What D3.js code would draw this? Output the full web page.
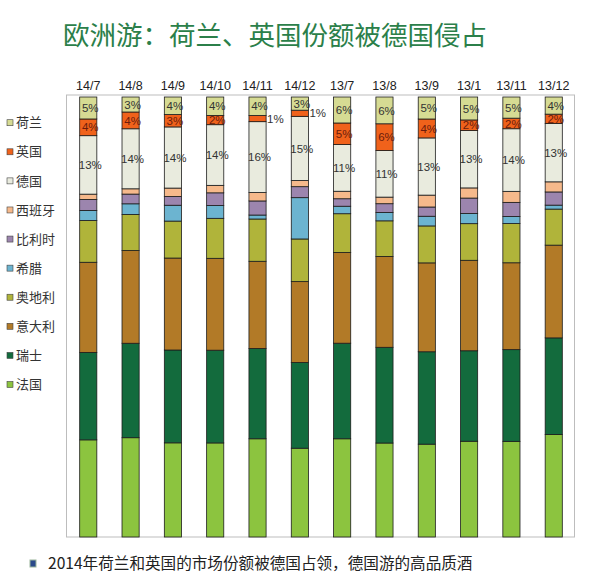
<!DOCTYPE html>
<html>
<head>
<meta charset="utf-8">
<script src="https://cdn.jsdelivr.net/npm/d3@7"></script>
<style>
  body { margin: 0; background: #fff; }
  svg { display: block; }
</style>
</head>
<body>
<svg></svg>
<script>
const svg = d3.select('svg')
    .attr('width', 590)
    .attr('height', 585);

// months along the top
const months = ['14/7', '14/8', '14/9', '14/10', '14/11', '14/12', '13/7', '13/8', '13/9', '13/1', '13/11', '13/12'];

// share per country (%)
const netherlands = [5.0, 3.4, 4.0, 4.2, 4.2, 3.0, 5.9, 6.1, 5.0, 5.2, 4.8, 3.9];
const uk          = [3.8, 3.8, 2.8, 2.1, 1.4, 1.4, 4.9, 6.1, 4.3, 2.4, 2.4, 2.1];
const germany     = [13.3, 13.6, 13.9, 13.8, 16.1, 14.6, 10.6, 10.6, 13.0, 13.0, 14.2, 13.3];
const spain       = [1.2, 1.2, 1.9, 1.7, 1.9, 1.4, 1.7, 1.5, 2.7, 2.3, 2.5, 2.3];
const belgium     = [2.5, 2.2, 2.0, 2.9, 3.2, 2.5, 1.7, 2.0, 2.1, 3.5, 3.2, 3.0];
const greece      = [2.3, 2.4, 3.6, 2.9, 0.9, 9.4, 1.7, 1.9, 2.2, 2.3, 1.6, 0.9];
const austria     = [9.5, 8.2, 8.4, 9.1, 9.6, 9.7, 8.8, 8.1, 8.4, 8.3, 8.9, 8.2];
const italy       = [20.5, 21.0, 20.9, 20.9, 19.8, 18.4, 20.6, 20.7, 20.2, 20.5, 19.7, 21.1];
const swiss       = [19.9, 21.4, 21.1, 21.1, 20.5, 19.5, 21.7, 21.8, 21.0, 20.5, 20.8, 22.0];
const france      = [22.1, 22.5, 21.4, 21.4, 22.3, 20.2, 22.3, 21.4, 21.1, 21.7, 21.7, 23.3];

// legend order (top to bottom) and the matching series
const countries = ['荷兰', '英国', '德国', '西班牙', '比利时', '希腊', '奥地利', '意大利', '瑞士', '法国'];
const series = [netherlands, uk, germany, spain, belgium, greece, austria, italy, swiss, france];
const colors = ['#d6db93', '#f0621b', '#e9ebde', '#f6b98b', '#9c85ae', '#6cb4d0', '#b0b43a', '#b27a27', '#136b3d', '#8cc43f'];
// only these three carry value labels
const labelled = ['荷兰', '英国', '德国'];

// rows for d3.stack
const rows = months.map((m, i) => {
    const r = { month: m };
    countries.forEach((c, k) => r[c] = series[k][i]);
    return r;
});

// stack from the bottom (法国) upward
const keys = countries.slice().reverse();
const stacked = d3.stack().keys(keys).offset(d3.stackOffsetExpand)(rows);

const colorOf = d3.scaleOrdinal().domain(countries).range(colors);

// plot frame
const plotL = 67, plotR = 575, plotT = 97, plotB = 537;

const x = d3.scaleBand()
    .domain(months)
    .range([plotL, plotR])
    .paddingInner(0.595)
    .paddingOuter(0.3);

const y = d3.scaleLinear()
    .domain([0, 1])
    .range([plotB, plotT]);

// title
svg.append('text')
    .attr('x', 63)
    .attr('y', 45)
    .attr('font-family', '"Noto Sans CJK SC", sans-serif')
    .attr('font-size', 26.5)
    .attr('fill', '#2b7f4a')
    .text('欧洲游：荷兰、英国份额被德国侵占');

// frame
svg.append('rect')
    .attr('x', plotL - 0.5)
    .attr('y', plotT - 2)
    .attr('width', plotR - plotL)
    .attr('height', plotB - plotT + 2)
    .attr('fill', 'none')
    .attr('stroke', '#bdbdbd')
    .attr('stroke-width', 1);

// month labels on top
svg.append('g')
    .attr('transform', `translate(0,${plotT - 7})`)
    .call(d3.axisTop(x).tickSize(0).tickPadding(0))
    .call(g => g.select('.domain').remove())
    .call(g => g.selectAll('text')
        .attr('font-family', '"Liberation Sans", Arial, sans-serif')
        .attr('font-size', 12.5)
        .attr('fill', '#222'));

// bars
const layer = svg.append('g')
    .selectAll('g')
    .data(stacked)
    .join('g')
    .attr('fill', d => colorOf(d.key));

layer.selectAll('rect')
    .data(d => d)
    .join('rect')
    .attr('x', d => x(d.data.month))
    .attr('y', d => y(d[1]))
    .attr('width', x.bandwidth())
    .attr('height', d => y(d[0]) - y(d[1]))
    .attr('stroke', '#1c1c1c')
    .attr('stroke-width', 0.8);

// value labels for 荷兰 / 英国 / 德国
stacked.filter(s => labelled.includes(s.key)).forEach(s => {
    const raw = series[countries.indexOf(s.key)];
    svg.append('g')
        .attr('font-family', '"Liberation Sans", Arial, sans-serif')
        .attr('font-size', 11.5)
        .selectAll('text')
        .data(s)
        .join('text')
        .each(function (d, i) {
            const v = raw[i];
            const small = v < 1.5;
            const cy = (y(d[0]) + y(d[1])) / 2;
            d3.select(this)
                .attr('x', small ? x(d.data.month) + x.bandwidth() + 1 : x(d.data.month) + x.bandwidth() / 2 + 2)
                .attr('y', cy)
                .attr('dy', '0.36em')
                .attr('text-anchor', small ? 'start' : 'middle')
                .attr('fill', s.key === '英国' && !small ? '#6b1c0c' : '#333')
                .text(Math.round(v) + '%');
        });
});

// legend on the left
const legendY = d3.scalePoint()
    .domain(countries)
    .range([122.7, 384.5]);

const legend = svg.append('g')
    .selectAll('g')
    .data(countries)
    .join('g')
    .attr('transform', d => `translate(7,${legendY(d)})`);

legend.append('rect')
    .attr('x', 0)
    .attr('y', -3)
    .attr('width', 6)
    .attr('height', 6)
    .attr('fill', d => colorOf(d))
    .attr('stroke', '#444')
    .attr('stroke-width', 0.6);

legend.append('text')
    .attr('x', 9)
    .attr('dy', '0.36em')
    .attr('font-family', '"Noto Sans CJK SC", sans-serif')
    .attr('font-size', 13)
    .attr('fill', '#333')
    .text(d => d);

// note below the chart
svg.append('rect')
    .attr('x', 30)
    .attr('y', 560)
    .attr('width', 6)
    .attr('height', 7)
    .attr('fill', '#2b4a8b')
    .attr('stroke', '#9bb59b')
    .attr('stroke-width', 1);

svg.append('text')
    .attr('x', 48)
    .attr('y', 569)
    .attr('font-family', '"Noto Sans CJK SC", sans-serif')
    .attr('font-size', 15.6)
    .attr('fill', '#222')
    .text('2014年荷兰和英国的市场份额被德国占领，德国游的高品质酒');
</script>
</body>
</html>
